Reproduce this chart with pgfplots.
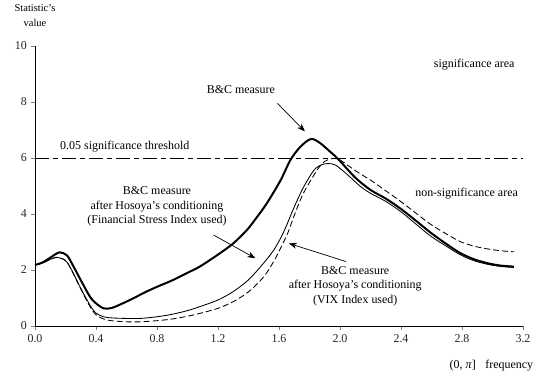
\documentclass[border=0pt]{standalone}
\usepackage{fontspec}
\setmainfont{Liberation Serif}
\usepackage{pgfplots}
\pgfplotsset{compat=1.18}
\usetikzlibrary{arrows.meta}
\begin{document}
\fontsize{12}{14.5}\selectfont
\begin{tikzpicture}
\path[use as bounding box] (-35bp,-48bp) rectangle (499bp,326bp);
\begin{axis}[
 at={(0,0)}, anchor=south west,
 scale only axis, width=488bp, height=280bp,
 xmin=0, xmax=3.2, ymin=0, ymax=10,
 axis x line=bottom, axis y line=left,
 axis line style={-, line width=0.9bp},
 xtick={0,0.4,0.8,1.2,1.6,2.0,2.4,2.8,3.2},
 ytick={0,2,4,6,8,10},
 tick align=outside, major tick length=4bp,
 tick style={line width=0.8bp},
 /pgf/number format/assume math mode=true,
 xticklabel style={/pgf/number format/fixed,/pgf/number format/fixed zerofill,/pgf/number format/precision=1},
 tick label style={font=\fontsize{12}{14}\selectfont, text=black!85},
 clip=false,
]
% threshold
\addplot[black, line width=0.8bp, dash pattern=on 14bp off 4bp on 5bp off 4bp] coordinates {(0,6) (3.2,6)};
% B&C measure (thick)
\addplot[black, line width=2bp, smooth] coordinates {
(0.00,2.18) (0.05,2.27) (0.10,2.44) (0.16,2.63) (0.21,2.52) (0.25,2.15) (0.30,1.64) (0.36,1.05)
(0.40,0.81) (0.45,0.63) (0.50,0.64) (0.56,0.77) (0.645,0.99) (0.72,1.20) (0.80,1.40) (0.90,1.63)
(1.00,1.90) (1.08,2.12) (1.20,2.55) (1.30,2.95) (1.39,3.43) (1.45,3.85) (1.52,4.38) (1.61,5.20)
(1.675,5.93) (1.74,6.40) (1.81,6.68) (1.87,6.53) (1.93,6.25) (1.99,5.95) (2.10,5.30) (2.20,4.86)
(2.30,4.55) (2.40,4.18) (2.50,3.75) (2.60,3.31) (2.70,2.92) (2.79,2.60) (2.88,2.38) (2.97,2.24)
(3.05,2.16) (3.14,2.12)};
% after Hosoya (FSI) thin solid
\addplot[black, line width=0.85bp, smooth] coordinates {
(0.00,2.18) (0.05,2.25) (0.10,2.38) (0.14,2.45) (0.18,2.40) (0.21,2.28) (0.25,1.90) (0.30,1.35)
(0.36,0.75) (0.40,0.46) (0.45,0.33) (0.50,0.29) (0.60,0.27) (0.69,0.27) (0.80,0.33) (0.90,0.42)
(1.00,0.55) (1.08,0.69) (1.20,0.93) (1.30,1.23) (1.40,1.65) (1.50,2.25) (1.57,2.75) (1.63,3.35)
(1.70,4.25) (1.76,4.95) (1.83,5.57) (1.88,5.76) (1.92,5.80) (1.97,5.75) (2.05,5.40) (2.13,5.00)
(2.20,4.74) (2.30,4.45) (2.40,4.08) (2.50,3.63) (2.60,3.19) (2.70,2.84) (2.79,2.54) (2.88,2.33)
(2.97,2.20) (3.05,2.13) (3.14,2.09)};
% after Hosoya (VIX) dashed
\addplot[black, line width=0.85bp, smooth, dash pattern=on 6bp off 3bp] coordinates {
(0.00,2.18) (0.05,2.25) (0.10,2.38) (0.14,2.45) (0.18,2.40) (0.21,2.28) (0.25,1.88) (0.30,1.32)
(0.36,0.70) (0.40,0.40) (0.45,0.25) (0.50,0.19) (0.60,0.15) (0.69,0.15) (0.80,0.19) (0.90,0.25)
(1.00,0.35) (1.08,0.45) (1.20,0.63) (1.30,0.87) (1.40,1.22) (1.50,1.76) (1.57,2.35) (1.63,3.00)
(1.66,3.35) (1.70,3.95) (1.76,4.74) (1.85,5.57) (1.90,5.88) (1.95,5.98) (2.00,5.93) (2.10,5.55)
(2.20,5.21) (2.30,4.83) (2.40,4.44) (2.50,4.02) (2.60,3.61) (2.70,3.28) (2.79,3.01) (2.88,2.85)
(2.97,2.75) (3.05,2.69) (3.14,2.65)};
% annotations
\node[anchor=west, inner sep=0] at (axis cs:0.164,6.4) {0.05 significance threshold};
\node at (axis cs:2.88,9.32) {significance area};
\node at (axis cs:2.83,4.74) {non-significance area};
\node at (axis cs:1.35,8.43) {B\&C measure};
\draw[line width=0.7bp, -{Stealth[length=8bp,width=6bp]}] (axis cs:1.59,7.95) -- (axis cs:1.77,6.95);
\node[align=center, inner sep=0] at (axis cs:0.80,4.27) {B\&C measure\\after Hosoya's conditioning\\(Financial Stress Index used)};
\draw[line width=0.7bp, -{Stealth[length=8bp,width=6bp]}] (axis cs:1.17,3.25) -- (axis cs:1.445,2.42);
\node[align=center, inner sep=0] at (axis cs:2.10,1.43) {B\&C measure\\after Hosoya's conditioning\\(VIX Index used)};
\draw[line width=0.7bp, -{Stealth[length=8bp,width=6bp]}] (axis cs:2.04,2.30) -- (axis cs:1.665,2.95);
\node[align=center, font=\fontsize{10.5}{15}\selectfont] at (axis cs:0,11.07) {Statistic's\\value};
\node at (axis cs:2.805,-1.43) {(0, \textit{π}]};
\node at (axis cs:3.11,-1.43) {frequency};
\end{axis}
\end{tikzpicture}
\end{document}
